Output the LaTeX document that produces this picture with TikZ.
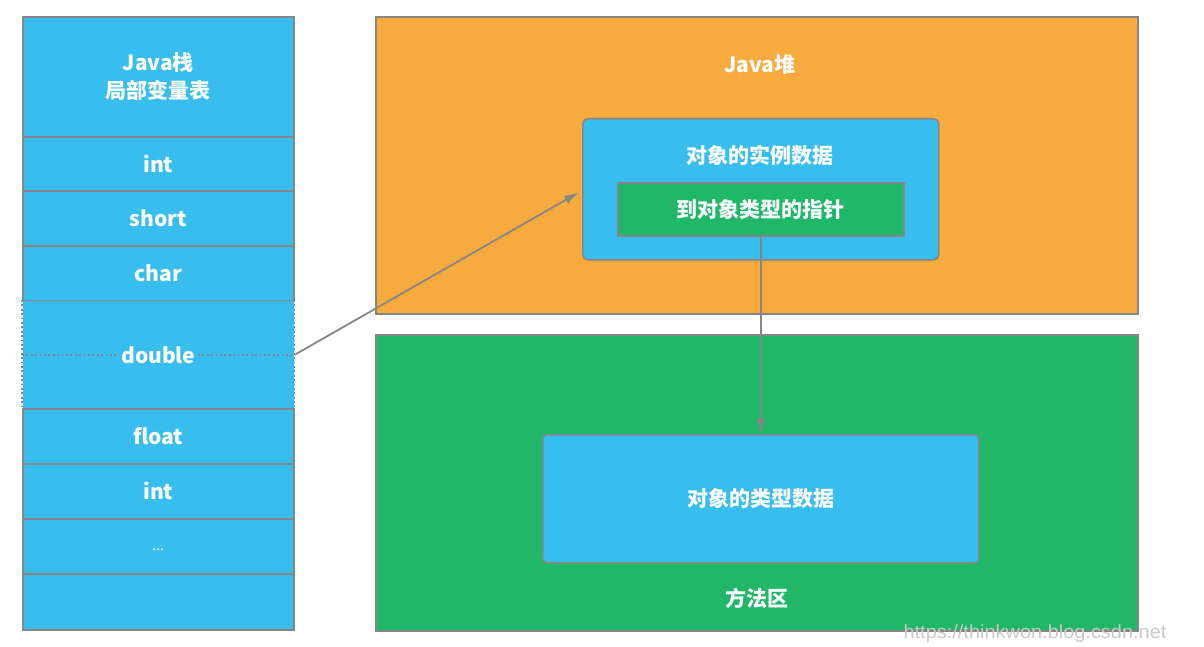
\documentclass[tikz,border=0pt]{standalone}
\usepackage{fontspec}
\newfontfamily\cjk{Noto Sans CJK SC}
\newfontfamily\markfont{Liberation Sans}
\usetikzlibrary{arrows.meta}
\definecolor{cellblue}{HTML}{38BDEF}
\definecolor{heaporange}{HTML}{F7AA3D}
\definecolor{areagreen}{HTML}{21B769}
\definecolor{edgegray}{HTML}{868686}
\definecolor{wmgray}{HTML}{C9C9C9}
\tikzset{
  lbl/.style={text=white, font=\cjk\bfseries\fontsize{21}{28}\selectfont, align=center},
  box/.style={lbl, draw=edgegray, line width=1.6pt, anchor=north west, inner sep=0pt},
  cell/.style={box, fill=cellblue, minimum width=271pt},
  link/.style={draw=edgegray, line width=1.8pt,
               -{Latex[length=15pt,width=9pt]}},
  dotline/.style={draw=edgegray, line width=1.5pt, dash pattern=on 1.8pt off 2.6pt}
}
\begin{document}
\begin{tikzpicture}[x=1pt,y=-1pt]
\useasboundingbox[fill=white] (0,0) rectangle (1204,647);

% ---- Java stack: local variable table ----
\node[cell, minimum height=120pt] (head) at (22,16) {Java栈\\局部变量表};
\node[cell, minimum height=54pt] (c1) at (22,136) {int};
\node[cell, minimum height=55pt] (c2) at (22,190) {short};
\node[cell, minimum height=55pt] (c3) at (22,245) {char};
\node[cell, draw=none, minimum height=108pt] (dbl) at (22,300) {};
\node[cell, minimum height=55pt] (c5) at (22,408) {float};
\node[cell, minimum height=55pt] (c6) at (22,463) {int};
\node[cell, minimum height=55pt] (c7) at (22,518) {};
\node[cell, minimum height=56pt] (c8) at (22,573) {};
\node[text=white, font=\cjk\fontsize{14}{16}\selectfont] (dots) at ([yshift=-3pt]c7.center) {...};

% the two-slot double entry: dotted sides and a dotted divider
\draw[dotline] (dbl.north west) -- (dbl.south west);
\draw[dotline] (dbl.north east) -- (dbl.south east);
\draw[dotline] (dbl.west) -- (dbl.east);
\node[lbl, fill=cellblue, inner xsep=2pt, inner ysep=0pt] (dbltext) at (dbl.center) {double};

% ---- Java heap ----
\node[box, fill=heaporange, minimum width=762pt, minimum height=297pt] (heap) at (375,16) {};
\node[lbl] (heaplbl) at (760,65) {Java堆};
\node[box, fill=cellblue, rounded corners=5pt, minimum width=356pt, minimum height=141pt] (inst) at (582,118) {};
\node[lbl] (instlbl) at (760,155) {对象的实例数据};
\node[box, fill=areagreen, minimum width=286pt, minimum height=53pt] (ptr) at (617,182) {到对象类型的指针};

% ---- Method area ----
\node[box, fill=areagreen, minimum width=762pt, minimum height=296pt] (meth) at (375,334) {};
\node[box, fill=cellblue, rounded corners=4pt, minimum width=436pt, minimum height=128pt] (type) at (542,434) {对象的类型数据};
\node[lbl] (methlbl) at (757,598) {方法区};

% ---- references ----
\draw[link] (dbl.east) -- ([xshift=-3pt,yshift=-3pt]inst.west);
\draw[link] (ptr.south) -- (type.north);

% ---- watermark ----
\node[text=wmgray, font=\markfont\fontsize{19}{21}\selectfont, xscale=1.05, anchor=center] (wm) at (1035,634) {https://thinkwon.blog.csdn.net};
\end{tikzpicture}
\end{document}
